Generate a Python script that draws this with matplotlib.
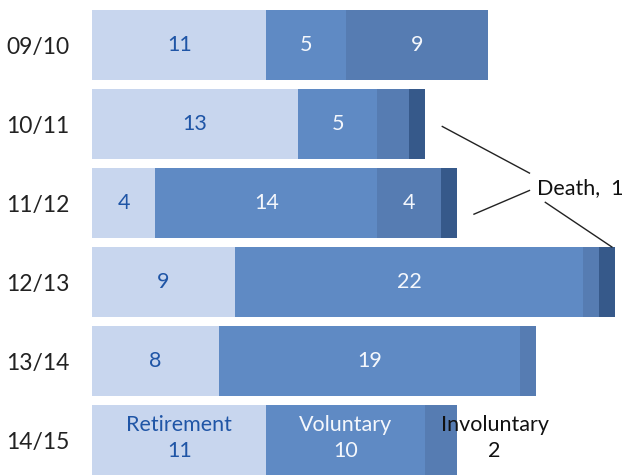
import matplotlib
matplotlib.use("Agg")
import matplotlib.pyplot as plt
import numpy as np

years = ['09/10', '10/11', '11/12', '12/13', '13/14', '14/15']
retirement = [11, 13, 4, 9, 8, 11]
voluntary = [5, 5, 14, 22, 19, 10]
involuntary = [9, 2, 4, 1, 1, 2]
death = [0, 1, 1, 1, 0, 0]
series_names = ['Retirement', 'Voluntary', 'Involuntary', 'Death']

colors = ['#c8d6ee', '#5f8ac4', '#567cb2', '#36598a']
label_colors = ['#1f55a6', '#f4f7fc', '#f4f7fc', '#f4f7fc']

plt.rcParams['font.family'] = ['Lato', 'DejaVu Sans']

fig = plt.figure(figsize=(6.25, 4.75), dpi=100)
ax = fig.add_axes([92 / 625, 0, 533 / 625, 1])

data = [retirement, voluntary, involuntary, death]
y = np.arange(len(years))
h = 0.89
left = np.zeros(len(years))
for k, vals in enumerate(data):
    vals = np.array(vals, dtype=float)
    ax.barh(y, vals, left=left, height=h, color=colors[k], edgecolor='none')
    for i, v in enumerate(vals):
        if i == len(years) - 1:
            continue
        if k < 2 or (k == 2 and v >= 4):
            ax.text(left[i] + v / 2, y[i], f"{int(v)}", ha='center', va='center',
                    fontsize=15.5, color=label_colors[k])
    left += vals

# last row: category name labels
last = len(years) - 1
lft = 0
for k in range(3):
    v = data[k][last]
    cx = lft + v / 2
    col = label_colors[k]
    if k == 2:
        cx = lft + v + 1.0 + 1.4
        col = '#111111'
    ax.text(cx, y[last] - 0.03, f"{series_names[k]}\n{v}", ha='center', va='center',
            fontsize=15.5, color=col, linespacing=1.4)
    lft += v

# Death annotation
totals = left
txt_x, txt_y = 28.1, 1.81
ax.text(txt_x, txt_y, f"Death,  {death[1]}", ha='left', va='center', fontsize=15.5, color='#111111')
lk = dict(color='#222222', lw=1.0)
ax.plot([totals[1] + 1.1, 27.6], [1.03, 1.62], **lk)
ax.plot([totals[2] + 1.1, 27.6], [2.14, 1.84], **lk)
ax.plot([28.6, totals[3] - 0.2], [1.99, 3 - h / 2], **lk)

ax.set_xlim(0, 533 / 15.85)
ax.set_ylim(5.44, -0.57)
ax.set_yticks(y)
ax.set_yticklabels(years, fontsize=16.5, color='#222222')
ax.tick_params(axis='y', length=0, pad=16)
ax.set_xticks([])
for s in ax.spines.values():
    s.set_visible(False)

fig.savefig('out.png', dpi=100)
